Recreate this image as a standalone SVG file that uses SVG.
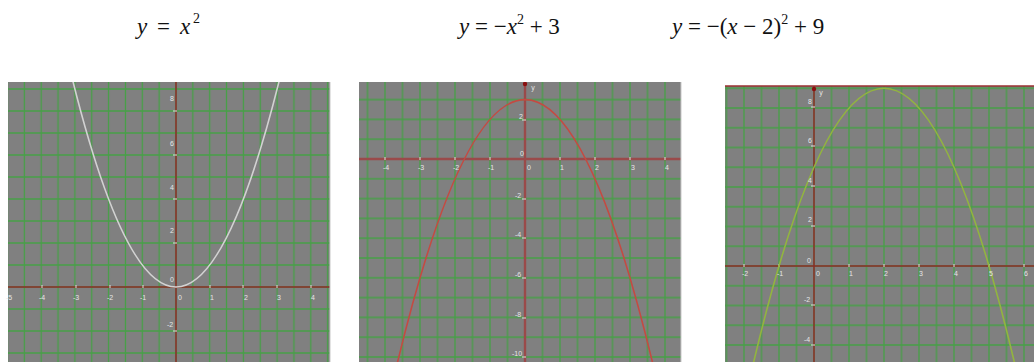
<svg xmlns="http://www.w3.org/2000/svg" width="1034" height="362" viewBox="0 0 1034 362">
<style>
.t{font-family:"Liberation Serif",serif;font-size:23px;fill:#111}
.i{font-style:italic}
.sup{font-size:14px}
.bg{fill:#808080}
.ax{stroke:#8e2a2a;stroke-width:1.5;fill:none}
.ax2{stroke:#9a4a4a;stroke-width:2.4;fill:none}
.tk{font-family:"Liberation Sans",sans-serif;font-size:7px;fill:#e6e6e6}
.tm{stroke:#e0e0e0;stroke-width:1}
.c1{stroke:#d2d2d2;stroke-width:1.6;fill:none}
.c2{stroke:#c44a42;stroke-width:1.6;fill:none}
.c3{stroke:#92b53e;stroke-width:1.6;fill:none}
.bd{fill:none;stroke:#c8c8c8;stroke-width:1}
</style>
<defs>
<pattern id="g1" patternUnits="userSpaceOnUse" x="167.575" y="276" width="16.85" height="22"><path d="M8.425 0V22M0 11H16.85" stroke="#46a046" stroke-width="1.3"/></pattern>
<pattern id="g2" patternUnits="userSpaceOnUse" x="516.25" y="149.1" width="17.5" height="19.8"><path d="M8.75 0V19.8M0 9.9H17.5" stroke="#46a046" stroke-width="1.3"/></pattern>
<pattern id="g3" patternUnits="userSpaceOnUse" x="805.25" y="256.125" width="17.5" height="19.75"><path d="M8.75 0V19.75M0 9.875H17.5" stroke="#46a046" stroke-width="1.3"/></pattern>
<clipPath id="k1"><rect x="8" y="82" width="322" height="280"/></clipPath>
<clipPath id="k2"><rect x="359" y="82" width="322" height="280"/></clipPath>
<clipPath id="k3"><rect x="725" y="86" width="309" height="276"/></clipPath>
</defs>
<rect width="1034" height="362" fill="#fff"/>

<g id="title1"><text class="t" y="34"><tspan class="i" x="137">y</tspan><tspan x="157">=</tspan><tspan class="i" x="180">x</tspan><tspan class="sup" x="193" dy="-11">2</tspan></text></g>
<g id="title2"><text class="t" x="459" y="34"><tspan class="i">y</tspan> = −<tspan class="i">x</tspan><tspan class="sup" dy="-10">2</tspan><tspan dy="10"> + 3</tspan></text></g>
<g id="title3"><text class="t" x="672" y="34"><tspan class="i">y</tspan> = −(<tspan class="i">x</tspan> − 2)<tspan class="sup" dy="-10">2</tspan><tspan dy="10"> + 9</tspan></text></g>

<g id="graph1">
<g clip-path="url(#k1)">
<rect class="bg" x="8" y="82" width="322" height="280"/>
<rect fill="url(#g1)" x="8" y="82" width="322" height="280"/>
<path class="ax" d="M176 82V362M8 287H330"/>
<path class="tm" d="M173 111h4M173 155h4M173 199h4M173 243h4M173 331h4M42 285v3M76 285v3M110 285v3M143 285v3M210 285v3M243 285v3M277 285v3M311 285v3"/>
<path class="c1" d="M71.5 75.6Q176 498.4 280.5 75.6"/>
</g>
<path class="bd" d="M330 82V362"/>
<g class="tk" text-anchor="middle">
<text x="172" y="101">8</text><text x="172" y="146">6</text><text x="172" y="190">4</text><text x="172" y="233">2</text><text x="172" y="282">0</text><text x="170" y="327">-2</text>
<text x="9" y="300">-5</text><text x="42" y="300">-4</text><text x="76" y="300">-3</text><text x="110" y="300">-2</text><text x="143" y="300">-1</text><text x="180" y="300">0</text><text x="212" y="300">1</text><text x="246" y="300">2</text><text x="279" y="300">3</text><text x="313" y="300">4</text>
</g>
</g>

<g id="graph2">
<g clip-path="url(#k2)">
<rect class="bg" x="359" y="82" width="322" height="280"/>
<rect fill="url(#g2)" x="359" y="82" width="322" height="280"/>
<path class="ax2" d="M525 82V362M359 159H681"/>
<path class="tm" d="M522 120h4M522 199h4M522 238h4M522 278h4M522 318h4M522 357h4M385 157v3M420 157v3M455 157v3M490 157v3M560 157v3M595 157v3M630 157v3M665 157v3"/>
<path class="c2" d="M392 385.5Q525 -186.3 658 385.5"/>
<circle cx="525" cy="84" r="2.2" fill="#8a1010"/>
</g>
<path class="bd" d="M681 82V362"/>
<g class="tk" text-anchor="middle">
<text x="533" y="90">y</text>
<text x="521" y="119">2</text><text x="522" y="156">0</text><text x="518" y="198">-2</text><text x="518" y="237">-4</text><text x="518" y="277">-6</text><text x="518" y="317">-8</text><text x="517" y="356">-10</text>
<text x="386" y="170">-4</text><text x="421" y="170">-3</text><text x="456" y="170">-2</text><text x="491" y="170">-1</text><text x="529" y="170">0</text><text x="562" y="170">1</text><text x="597" y="170">2</text><text x="633" y="170">3</text><text x="667" y="170">4</text>
</g>
</g>

<g id="graph3">
<g clip-path="url(#k3)">
<rect class="bg" x="725" y="86" width="309" height="276"/>
<rect fill="url(#g3)" x="725" y="86" width="309" height="276"/>
<path class="ax" d="M814 86V362M725 266H1034"/>
<path class="tm" d="M811 107h4M811 146h4M811 186h4M811 226h4M811 305h4M811 345h4M744 264v3M779 264v3M849 264v3M884 264v3M919 264v3M954 264v3M989 264v3M1024 264v3"/>
<path class="c3" d="M747.5 388.6Q884 -212.1 1020.5 388.6"/>
<circle cx="814" cy="89" r="2.2" fill="#8a1010"/>
</g>
<path d="M725 86H1034" stroke="#9a3030" stroke-width="1.6"/>
<g class="tk" text-anchor="middle">
<text x="821" y="95">y</text>
<text x="810" y="104">8</text><text x="810" y="143">6</text><text x="810" y="183">4</text><text x="810" y="222">2</text><text x="809" y="263">0</text><text x="807" y="302">-2</text><text x="807" y="342">-4</text>
<text x="745" y="276">-2</text><text x="780" y="276">-1</text><text x="818" y="276">0</text><text x="851" y="276">1</text><text x="886" y="276">2</text><text x="921" y="276">3</text><text x="956" y="276">4</text><text x="991" y="276">5</text><text x="1026" y="276">6</text>
</g>
</g>
</svg>
